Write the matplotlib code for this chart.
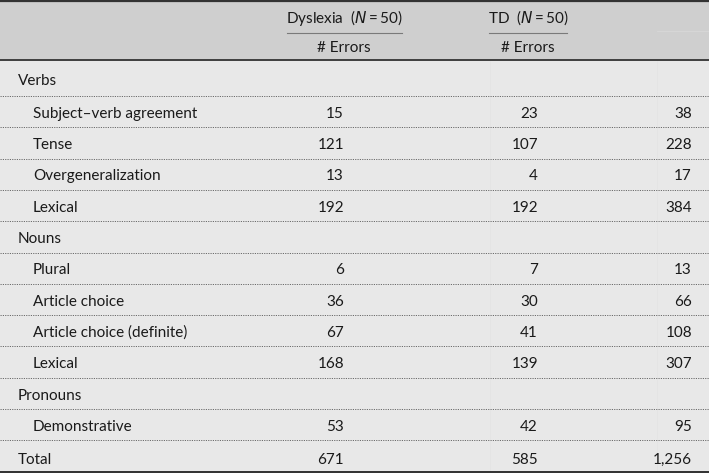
import matplotlib.pyplot as plt
from matplotlib.lines import Line2D

# table content
sections = ["Verbs", "Nouns", "Pronouns"]
verb_items = ["Subject\u2013verb agreement", "Tense", "Overgeneralization", "Lexical"]
verb_dys = [15, 121, 13, 192]
verb_td = [23, 107, 4, 192]
verb_tot = [38, 228, 17, 384]
noun_items = ["Plural", "Article choice", "Article choice (definite)", "Lexical"]
noun_dys = [6, 36, 67, 168]
noun_td = [7, 30, 41, 139]
noun_tot = [13, 66, 108, 307]
pron_items = ["Demonstrative"]
pron_dys = [53]
pron_td = [42]
pron_tot = [95]
total_row = ["Total", "671", "585", "1,256"]
col_heads = ["Dyslexia  ($\\mathit{N}\\,$=$\\,$50)", "TD  ($\\mathit{N}\\,$=$\\,$50)"]
sub_head = "# Errors"

W, H = 709, 473
fig = plt.figure(figsize=(W / 100, H / 100), dpi=100)
ax = fig.add_axes([0, 0, 1, 1])
ax.set_xlim(0, W)
ax.set_ylim(H, 0)
ax.axis("off")

font = dict(family=["Lato", "DejaVu Sans"], fontsize=11, color="#1a1a1a")

# backgrounds
ax.add_patch(plt.Rectangle((0, 0), W, 61, color="#cfcfcf", zorder=0))
ax.add_patch(plt.Rectangle((0, 61), W, H - 61, color="#e8e8e8", zorder=0))

# rules
ax.add_line(Line2D([0, W], [1, 1], color="#333333", lw=1.6))
ax.add_line(Line2D([0, W], [60.5, 60.5], color="#333333", lw=1.3))
ax.add_line(Line2D([0, W], [471.5, 471.5], color="#222222", lw=1.3))
ax.add_line(Line2D([287, 402], [33, 33], color="#7a7a7a", lw=0.8))
ax.add_line(Line2D([489, 567], [33, 33], color="#7a7a7a", lw=0.8))
ax.add_line(Line2D([657, W], [31, 31], color="#d8d8d8", lw=0.6))

# header text
ax.text(344, 18, col_heads[0], ha="center", va="center", **font)
ax.text(528, 18, col_heads[1], ha="center", va="center", **font)
ax.text(344, 48, sub_head, ha="center", va="center", **font)
ax.text(528, 48, sub_head, ha="center", va="center", **font)

# build row list
rows = []
for name, items, d, t, s in [
    (sections[0], verb_items, verb_dys, verb_td, verb_tot),
    (sections[1], noun_items, noun_dys, noun_td, noun_tot),
    (sections[2], pron_items, pron_dys, pron_td, pron_tot),
]:
    rows.append((name, None, None, None, 18))
    for i in range(len(items)):
        rows.append((items[i], str(d[i]), str(t[i]), str(s[i]), 33))
rows.append((total_row[0], total_row[1], total_row[2], total_row[3], 18))

first_line = 96
step = 31.3
for i, (lab, a, b, c, xl) in enumerate(rows):
    line_y = first_line + i * step
    yc = line_y - 13.5 if i > 0 else 81
    if i == len(rows) - 1:
        yc = 460
    ax.text(xl, yc, lab, ha="left", va="center", **font)
    if a is not None:
        ax.text(344, yc, a, ha="right", va="center", **font)
        ax.text(538, yc, b, ha="right", va="center", **font)
        ax.text(692, yc, c, ha="right", va="center", **font)
    if i < len(rows) - 1:
        ax.add_line(Line2D([0, W], [line_y, line_y], color="#6a6a6a", lw=0.7,
                           ls=(0, (1.2, 1.2))))

# faint column separators
for x in [490, 657]:
    ax.add_line(Line2D([x, x], [61, 471], color="#e2e2e2", lw=0.4, zorder=0.5))

fig.savefig("out.png", dpi=100)
